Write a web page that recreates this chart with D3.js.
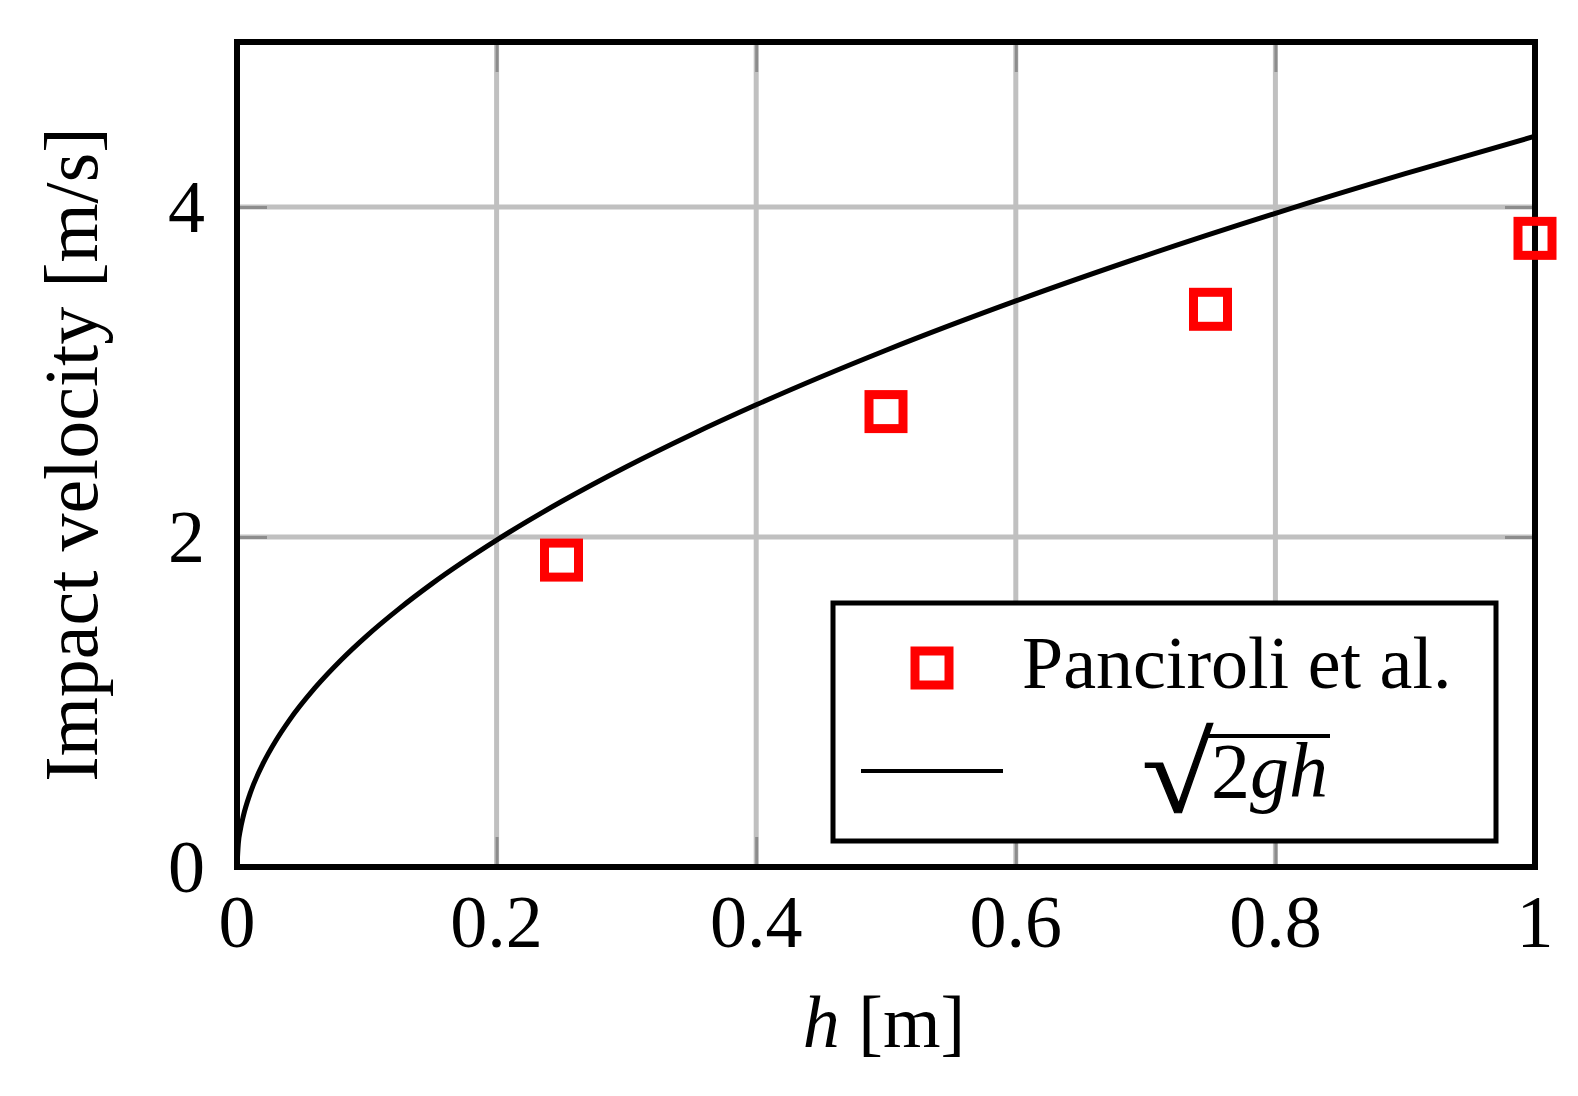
<!DOCTYPE html>
<html>
<head>
<meta charset="utf-8">
<script src="https://cdn.jsdelivr.net/npm/d3@7.9.0/dist/d3.min.js"></script>
<style>
  html, body { margin: 0; padding: 0; background: #fff; }
  svg { display: block; }
  text { font-family: "Liberation Serif", "Times New Roman", serif; fill: #000; }
</style>
</head>
<body>
<svg id="chart" width="1578" height="1096"></svg>
<script>
// measured drop heights and impact velocities (Panciroli et al.)
const expH = [0.25, 0.5, 0.75, 1.0];
const expV = [1.86, 2.76, 3.38, 3.81];

// theory curve sqrt(2gh)
const curveH = [0, 0.001, 0.0025, 0.005, 0.01, 0.02, 0.03, 0.04, 0.06, 0.08, 0.1, 0.125, 0.15, 0.2, 0.25, 0.3, 0.35, 0.4, 0.5, 0.6, 0.7, 0.8, 0.9, 1.0];
const curveV = [0, 0.140, 0.2215, 0.313, 0.443, 0.626, 0.767, 0.886, 1.085, 1.253, 1.401, 1.566, 1.716, 1.981, 2.215, 2.426, 2.620, 2.801, 3.132, 3.431, 3.706, 3.962, 4.202, 4.429];

const xTicks = [0, 0.2, 0.4, 0.6, 0.8, 1];
const xTickLabels = ['0', '0.2', '0.4', '0.6', '0.8', '1'];
const yTicks = [0, 2, 4];
const yTickLabels = ['0', '2', '4'];

const margin = { left: 237, right: 1535, top: 42, bottom: 867 };
const fontSize = 74;

const svg = d3.select('#chart');

const x = d3.scaleLinear().domain([0, 1]).range([margin.left, margin.right]);
const y = d3.scaleLinear().domain([0, 5]).range([margin.bottom, margin.top]);

// grid
const grid = svg.append('g');
grid.selectAll('line.gx')
  .data(xTicks.slice(1, -1))
  .join('line')
  .attr('x1', d => x(d)).attr('x2', d => x(d))
  .attr('y1', margin.top).attr('y2', margin.bottom)
  .attr('stroke', '#c0c0c0').attr('stroke-width', 5);
grid.selectAll('line.gy')
  .data(yTicks.slice(1))
  .join('line')
  .attr('class', 'gy')
  .attr('x1', margin.left).attr('x2', margin.right)
  .attr('y1', d => y(d)).attr('y2', d => y(d))
  .attr('stroke', '#c0c0c0').attr('stroke-width', 5);

// axes (ticks inside, gray)
const tickLen = 30;
const axisBottom = d3.axisBottom(x).tickValues(xTicks).tickSize(-tickLen).tickFormat('');
const axisTop = d3.axisTop(x).tickValues(xTicks).tickSize(-tickLen).tickFormat('');
const axisLeft = d3.axisLeft(y).tickValues(yTicks).tickSize(-tickLen).tickFormat('');
const axisRight = d3.axisRight(y).tickValues(yTicks).tickSize(-tickLen).tickFormat('');

function styleAxis(g) {
  g.select('.domain').remove();
  g.selectAll('.tick line').attr('stroke', '#8c8c8c').attr('stroke-width', 3);
}
svg.append('g').attr('transform', `translate(0,${margin.bottom})`).call(axisBottom).call(styleAxis);
svg.append('g').attr('transform', `translate(0,${margin.top})`).call(axisTop).call(styleAxis);
svg.append('g').attr('transform', `translate(${margin.left},0)`).call(axisLeft).call(styleAxis);
svg.append('g').attr('transform', `translate(${margin.right},0)`).call(axisRight).call(styleAxis);

// tick labels
svg.append('g').selectAll('text')
  .data(xTicks)
  .join('text')
  .attr('x', d => x(d))
  .attr('y', 947)
  .attr('text-anchor', 'middle')
  .attr('font-size', fontSize)
  .text((d, i) => xTickLabels[i]);

svg.append('g').selectAll('text')
  .data(yTicks)
  .join('text')
  .attr('x', 205)
  .attr('y', d => y(d) + 25)
  .attr('text-anchor', 'end')
  .attr('font-size', fontSize)
  .text((d, i) => yTickLabels[i]);

// theory curve
const line = d3.line()
  .x((d, i) => x(curveH[i]))
  .y(d => y(d))
  .curve(d3.curveMonotoneX);

const clip = svg.append('clipPath').attr('id', 'plotClip');
clip.append('rect')
  .attr('x', margin.left).attr('y', margin.top)
  .attr('width', margin.right - margin.left)
  .attr('height', margin.bottom - margin.top);

svg.append('path')
  .datum(curveV)
  .attr('d', line)
  .attr('fill', 'none')
  .attr('stroke', '#000')
  .attr('stroke-width', 5)
  .attr('clip-path', 'url(#plotClip)');

// frame
svg.append('rect')
  .attr('x', margin.left).attr('y', margin.top)
  .attr('width', margin.right - margin.left)
  .attr('height', margin.bottom - margin.top)
  .attr('fill', 'none')
  .attr('stroke', '#000')
  .attr('stroke-width', 6);

// experimental markers
const mSize = 34;
svg.append('g').selectAll('rect')
  .data(expV)
  .join('rect')
  .attr('x', (d, i) => x(expH[i]) - mSize / 2)
  .attr('y', d => y(d) - mSize / 2)
  .attr('width', mSize)
  .attr('height', mSize)
  .attr('fill', 'none')
  .attr('stroke', '#ff0000')
  .attr('stroke-width', 9);

// legend
const legend = svg.append('g');
legend.append('rect')
  .attr('x', 833).attr('y', 603)
  .attr('width', 1496 - 833).attr('height', 841 - 603)
  .attr('fill', '#fff')
  .attr('stroke', '#000')
  .attr('stroke-width', 5);

legend.append('rect')
  .attr('x', 932 - mSize / 2).attr('y', 668 - mSize / 2)
  .attr('width', mSize).attr('height', mSize)
  .attr('fill', 'none')
  .attr('stroke', '#ff0000')
  .attr('stroke-width', 9);

legend.append('text')
  .attr('x', 1022).attr('y', 688)
  .attr('font-size', fontSize)
  .text('Panciroli et al.');

legend.append('line')
  .attr('x1', 861).attr('x2', 1003)
  .attr('y1', 771).attr('y2', 771)
  .attr('stroke', '#000')
  .attr('stroke-width', 4);

// sqrt(2gh)
const formula = legend.append('text')
  .attr('x', 1211).attr('y', 797)
  .attr('font-size', 78);
formula.append('tspan').text('2');
formula.append('tspan').attr('font-style', 'italic').text('gh');

// radical glyph, stretched to reach below the baseline like the TeX one
legend.append('text')
  .attr('transform', 'translate(1213,812) scale(1.15,1)')
  .attr('text-anchor', 'end')
  .attr('font-size', 112)
  .attr('font-family', 'DejaVu Sans')
  .attr('stroke', '#000')
  .attr('stroke-width', 1.2)
  .text('√');

legend.append('line')
  .attr('x1', 1203).attr('x2', 1330)
  .attr('y1', 736).attr('y2', 736)
  .attr('stroke', '#000')
  .attr('stroke-width', 4);

// axis labels
const xl = svg.append('text')
  .attr('x', 884).attr('y', 1047)
  .attr('text-anchor', 'middle')
  .attr('font-size', fontSize);
xl.append('tspan').attr('font-style', 'italic').text('h');
xl.append('tspan').text(' [m]');

svg.append('text')
  .attr('transform', `translate(97,${(margin.top + margin.bottom) / 2}) rotate(-90)`)
  .attr('text-anchor', 'middle')
  .attr('font-size', 76)
  .text('Impact velocity [m/s]');
</script>
</body>
</html>
